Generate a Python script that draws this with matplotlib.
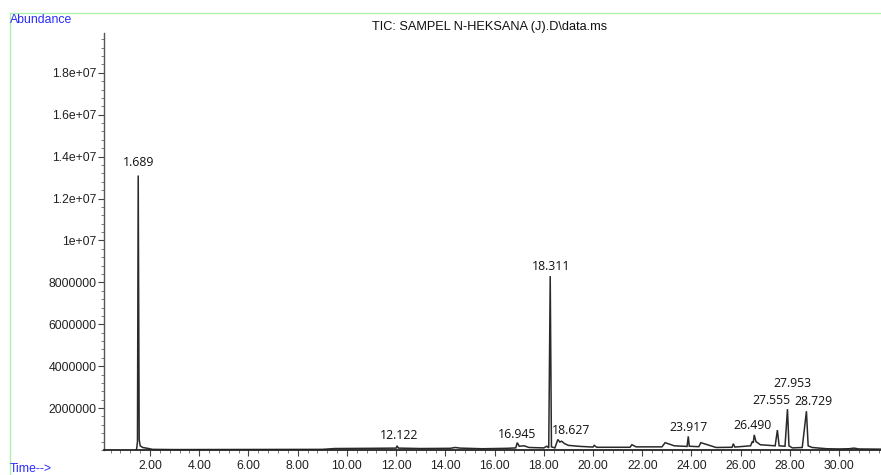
import matplotlib
matplotlib.use("Agg")
import matplotlib.pyplot as plt
from matplotlib.ticker import FixedLocator, MultipleLocator, FuncFormatter
from matplotlib.lines import Line2D

# ---- data ----
time_min = [1.45, 1.49, 1.52, 1.56, 1.60, 1.70, 1.90, 2.10, 3.00, 9.00, 9.50, 11.0,
            12.00, 12.04, 12.09, 13.0, 14.2, 14.4, 14.6, 15.5, 16.5, 16.86, 16.92,
            17.00, 17.20, 17.40, 18.00, 18.12, 18.20, 18.26, 18.31, 18.45, 18.57,
            18.65, 18.72, 18.85, 19.00, 19.50, 20.00, 20.05, 20.15, 21.50, 21.58,
            21.75, 22.80, 22.93, 23.10, 23.30, 23.82, 23.87, 23.91, 24.25, 24.30,
            24.38, 25.00, 25.65, 25.70, 25.76, 26.40, 26.47, 26.51, 26.55, 26.62,
            26.80, 27.40, 27.49, 27.56, 27.80, 27.90, 27.96, 28.10, 28.50, 28.67,
            28.74, 28.90, 29.50, 30.00, 30.40, 30.60, 30.80, 31.70]
abundance = [0.0, 0.4, 13.1, 0.5, 0.2, 0.12, 0.08, 0.03, 0.02, 0.03, 0.07, 0.08,
             0.09, 0.2, 0.09, 0.07, 0.08, 0.12, 0.09, 0.06, 0.08, 0.10, 0.35,
             0.18, 0.2, 0.12, 0.10, 0.18, 0.10, 8.3, 0.15, 0.10, 0.5,
             0.38, 0.42, 0.30, 0.22, 0.17, 0.14, 0.22, 0.13, 0.13, 0.25,
             0.15, 0.15, 0.35, 0.28, 0.20, 0.17, 0.65, 0.18, 0.16, 0.16,
             0.35, 0.12, 0.13, 0.30, 0.14, 0.20, 0.40, 0.35, 0.72, 0.40,
             0.25, 0.20, 0.95, 0.20, 0.18, 1.95, 0.20, 0.10, 0.12, 1.85,
             0.20, 0.12, 0.06, 0.05, 0.06, 0.09, 0.05, 0.04]
abundance = [a * 1e6 for a in abundance]

peak_labels = ["1.689", "12.122", "16.945", "18.311", "18.627", "23.917",
               "26.490", "27.555", "27.953", "28.729"]
label_x = [1.55, 12.12, 16.92, 18.30, 19.12, 23.87, 26.47, 27.26, 28.09, 28.95]
label_y = [13.7, 0.67, 0.76, 8.75, 0.95, 1.06, 1.16, 2.35, 3.15, 2.3]
label_y = [v * 1e6 for v in label_y]

x_ticks = [2, 4, 6, 8, 10, 12, 14, 16, 18, 20, 22, 24, 26, 28, 30]
y_ticks = [2e6, 4e6, 6e6, 8e6, 1e7, 1.2e7, 1.4e7, 1.6e7, 1.8e7]
y_tick_labels = ["2000000", "4000000", "6000000", "8000000", "1e+07",
                 "1.2e+07", "1.4e+07", "1.6e+07", "1.8e+07"]

title = "TIC: SAMPEL N-HEKSANA (J).D\\data.ms"

# ---- figure ----
W, H = 881, 475
fig = plt.figure(figsize=(W / 100, H / 100), dpi=100)
ax = fig.add_axes([104 / W, 1 - 450 / H, (W - 104) / W, (450 - 33) / H])

ax.plot(time_min, abundance, color="#2a2a2a", lw=1.1, solid_joinstyle="miter")

ax.set_xlim(0.13, 31.7)
ax.set_ylim(0, 1.99e7)

for s in ("top", "right"):
    ax.spines[s].set_visible(False)
ax.spines["left"].set_color("#555555")
ax.spines["bottom"].set_color("#222222")
ax.spines["left"].set_linewidth(1.0)
ax.spines["bottom"].set_linewidth(1.3)

ax.xaxis.set_major_locator(FixedLocator(x_ticks))
ax.xaxis.set_minor_locator(MultipleLocator(0.4))
ax.xaxis.set_major_formatter(FuncFormatter(lambda v, p: f"{v:.2f}"))
ax.yaxis.set_major_locator(FixedLocator(y_ticks))
ax.yaxis.set_minor_locator(MultipleLocator(4e5))
ax.set_yticklabels(y_tick_labels)

tick_font = "Liberation Sans"
ax.tick_params(axis="both", which="major", direction="out", length=4, width=0.8,
               color="#444444", labelsize=8.8, pad=1.2)
ax.tick_params(axis="both", which="minor", direction="out", length=2.5, width=0.6,
               color="#666666")
ax.tick_params(axis="x", which="major", pad=3)
for lab in ax.get_xticklabels() + ax.get_yticklabels():
    lab.set_fontfamily(tick_font)
    lab.set_color("#222222")

for txt, x, y in zip(peak_labels, label_x, label_y):
    ax.text(x, y, txt, ha="center", va="center", fontsize=8.8,
            family="Open Sans", color="#111111")

fig.text(490 / W, 1 - 27 / H, title, ha="center", va="center", fontsize=9.2,
         family=tick_font, color="#111111")
fig.text(10 / W, 1 - 20 / H, "Abundance", ha="left", va="center", fontsize=8.8,
         family=tick_font, color="#2a2aff")
fig.text(10 / W, 1 - 469 / H, "Time-->", ha="left", va="center", fontsize=8.8,
         family=tick_font, color="#2a2aff")

green = "#aef0ae"
fig.add_artist(Line2D([10 / W, 1.0], [1 - 13 / H, 1 - 13 / H], color=green, lw=1.0,
                      transform=fig.transFigure))
fig.add_artist(Line2D([10 / W, 10 / W], [1 - 13 / H, 0.0], color=green, lw=1.0,
                      transform=fig.transFigure))

fig.savefig("out.png", dpi=100)
